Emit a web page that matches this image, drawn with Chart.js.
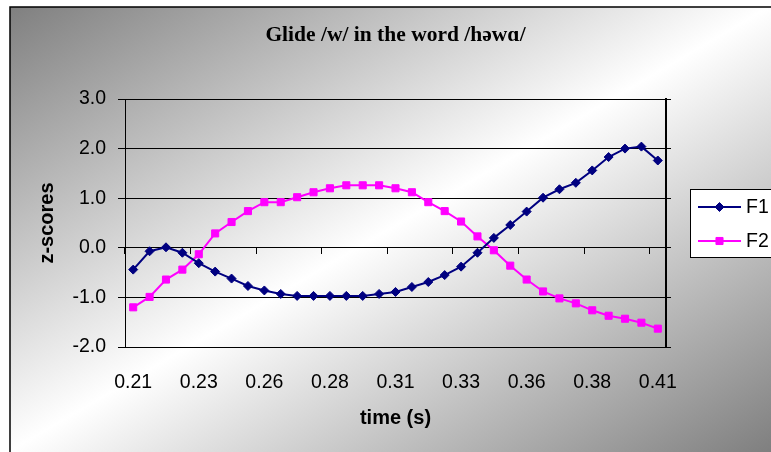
<!DOCTYPE html>
<html>
<head>
<meta charset="utf-8">
<script src="https://cdn.jsdelivr.net/npm/chart.js@4.4.0/dist/chart.umd.min.js"></script>
<style>
  html, body { margin: 0; padding: 0; background: #fff; }
  #wrap { width: 771px; height: 452px; }
</style>
</head>
<body>
<div id="wrap"><canvas id="glideChart" width="771" height="452"></canvas></div>
<script>
// Dados (z-scores de F1 e F2 ao longo do tempo)
const times = [
  "0.2100", "0.2163", "0.2225", "0.2288", "0.2350", "0.2413", "0.2475", "0.2538",
  "0.2600", "0.2663", "0.2725", "0.2788", "0.2850", "0.2913", "0.2975", "0.3038",
  "0.3100", "0.3163", "0.3225", "0.3288", "0.3350", "0.3413", "0.3475", "0.3538",
  "0.3600", "0.3663", "0.3725", "0.3788", "0.3850", "0.3913", "0.3975", "0.4038",
  "0.4100"
];
const tickLabels = ["0.21", "0.23", "0.26", "0.28", "0.31", "0.33", "0.36", "0.38", "0.41"];
const yTicks = [-2, -1, 0, 1, 2, 3];

const f1 = [
  -0.44, -0.07, 0.01, -0.10, -0.31, -0.48, -0.62, -0.77, -0.86, -0.93, -0.97,
  -0.97, -0.97, -0.97, -0.97, -0.93, -0.89, -0.79, -0.69, -0.55, -0.38, -0.10,
  0.20, 0.46, 0.73, 1.01, 1.18, 1.31, 1.56, 1.83, 2.00, 2.04, 1.76
];
const f2 = [
  -1.20, -0.99, -0.64, -0.44, -0.13, 0.29, 0.52, 0.74, 0.92, 0.92, 1.02,
  1.12, 1.20, 1.26, 1.26, 1.26, 1.20, 1.12, 0.92, 0.74, 0.53, 0.23,
  -0.05, -0.36, -0.64, -0.88, -1.02, -1.12, -1.26, -1.37, -1.43, -1.51, -1.63
];

const TITLE = "Glide /w/ in the word /h\u0259w\u0251/";
const SANS = '"Liberation Sans", Arial, sans-serif';
const TICK_SIZE = 19.5;
const LABEL_SIZE = 20;

// Fundo em degrade, moldura, titulo e legenda no estilo Excel
const framePlugin = {
  id: "frame",
  beforeDraw(chart) {
    const ctx = chart.ctx;
    const w = chart.width, h = chart.height;
    ctx.save();
    ctx.fillStyle = "#fff";
    ctx.fillRect(0, 0, w, h);
    const g = ctx.createLinearGradient(196, -104, 585, 561);
    g.addColorStop(0, "#7f7f7f");
    g.addColorStop(0.5, "#ffffff");
    g.addColorStop(1, "#7f7f7f");
    ctx.fillStyle = g;
    ctx.fillRect(10, 7, w - 10, h - 7);
    ctx.strokeStyle = "#000";
    ctx.lineWidth = 1.5;
    ctx.strokeRect(10, 7, w + 10, h + 10);
    ctx.restore();
  },
  afterDraw(chart) {
    const ctx = chart.ctx;
    const area = chart.chartArea;
    ctx.save();
    // titulo
    ctx.fillStyle = "#000";
    ctx.font = 'bold 21.5px "Liberation Serif", "Times New Roman", serif';
    ctx.textAlign = "center";
    ctx.textBaseline = "middle";
    ctx.fillText(TITLE, (area.left + area.right) / 2, 35);

    // legenda
    ctx.fillStyle = "#fff";
    ctx.fillRect(690, 189, 100, 68);
    ctx.strokeStyle = "#000";
    ctx.lineWidth = 1;
    ctx.strokeRect(690.5, 189.5, 100, 68);
    chart.data.datasets.forEach((ds, i) => {
      const y = 207 + i * 34;
      ctx.strokeStyle = ds.borderColor;
      ctx.lineWidth = 2;
      ctx.beginPath();
      ctx.moveTo(698, y);
      ctx.lineTo(741, y);
      ctx.stroke();
      ctx.fillStyle = ds.backgroundColor;
      ctx.lineWidth = 1;
      Chart.helpers.drawPoint(ctx, {
        pointStyle: ds.pointStyle, rotation: 0, radius: ds.pointRadius, borderWidth: 1
      }, 719.5, y);
      ctx.fillStyle = "#000";
      ctx.font = TICK_SIZE + "px " + SANS;
      ctx.textAlign = "left";
      ctx.textBaseline = "middle";
      ctx.fillText(ds.label, 746, y + 1);
    });
    ctx.restore();
  }
};

const ctx = document.getElementById("glideChart").getContext("2d");

new Chart(ctx, {
  type: "line",
  data: {
    labels: times,
    datasets: [
      {
        label: "F1",
        data: f1,
        borderColor: "#000080",
        backgroundColor: "#000080",
        borderWidth: 2,
        pointStyle: "rectRot",
        pointRadius: 4.5,
        pointBorderWidth: 1,
        tension: 0
      },
      {
        label: "F2",
        data: f2,
        borderColor: "#ff00ff",
        backgroundColor: "#ff00ff",
        borderWidth: 2,
        pointStyle: "rect",
        pointRadius: 5,
        pointBorderWidth: 1,
        tension: 0
      }
    ]
  },
  options: {
    responsive: false,
    animation: false,
    devicePixelRatio: 1,
    layout: { padding: { left: 10, top: 99, right: 0, bottom: 0 } },
    plugins: {
      legend: { display: false },
      title: { display: false },
      tooltip: { enabled: false }
    },
    scales: {
      x: {
        type: "category",
        position: "bottom",
        offset: true,
        grid: { display: false },
        border: { display: false },
        ticks: {
          autoSkip: false,
          maxRotation: 0,
          color: "#000",
          font: { family: SANS, size: TICK_SIZE },
          padding: 16,
          callback: (v, i) => (i % 4 === 0 ? tickLabels[i / 4] : "")
        },
        title: {
          display: true,
          text: "time (s)",
          color: "#000",
          font: { family: SANS, size: LABEL_SIZE, weight: "bold" },
          padding: 22
        },
        afterFit: (s) => { s.height = 105; }
      },
      x2: {
        type: "category",
        position: { y: 0 },
        offset: true,
        grid: {
          display: true,
          drawOnChartArea: false,
          drawTicks: true,
          tickLength: 6,
          offset: true,
          color: (c) => (c.index % 4 === 0 ? "#000" : "rgba(0,0,0,0)")
        },
        border: { display: false },
        ticks: { display: false, autoSkip: false },
        afterFit: (s) => { s.height = 0; }
      },
      y: {
        type: "linear",
        position: "left",
        min: yTicks[0],
        max: yTicks[yTicks.length - 1],
        ticks: {
          stepSize: 1,
          color: "#000",
          font: { family: SANS, size: TICK_SIZE },
          padding: 12,
          callback: (v) => Number(v).toFixed(1)
        },
        grid: { color: "#000", lineWidth: 1, tickLength: 7 },
        border: { color: "#000", width: 1 },
        title: {
          display: true,
          text: "z-scores",
          color: "#000",
          font: { family: SANS, size: LABEL_SIZE, weight: "bold" },
          padding: 25
        },
        afterFit: (s) => { s.width = 115; }
      },
      y2: {
        type: "linear",
        position: "right",
        min: yTicks[0],
        max: yTicks[yTicks.length - 1],
        ticks: { display: false, stepSize: 1 },
        grid: { drawOnChartArea: false, color: "#000", tickLength: 5 },
        border: { color: "#000", width: 2 },
        afterFit: (s) => { s.width = 105; }
      }
    }
  },
  plugins: [framePlugin]
});
</script>
</body>
</html>
